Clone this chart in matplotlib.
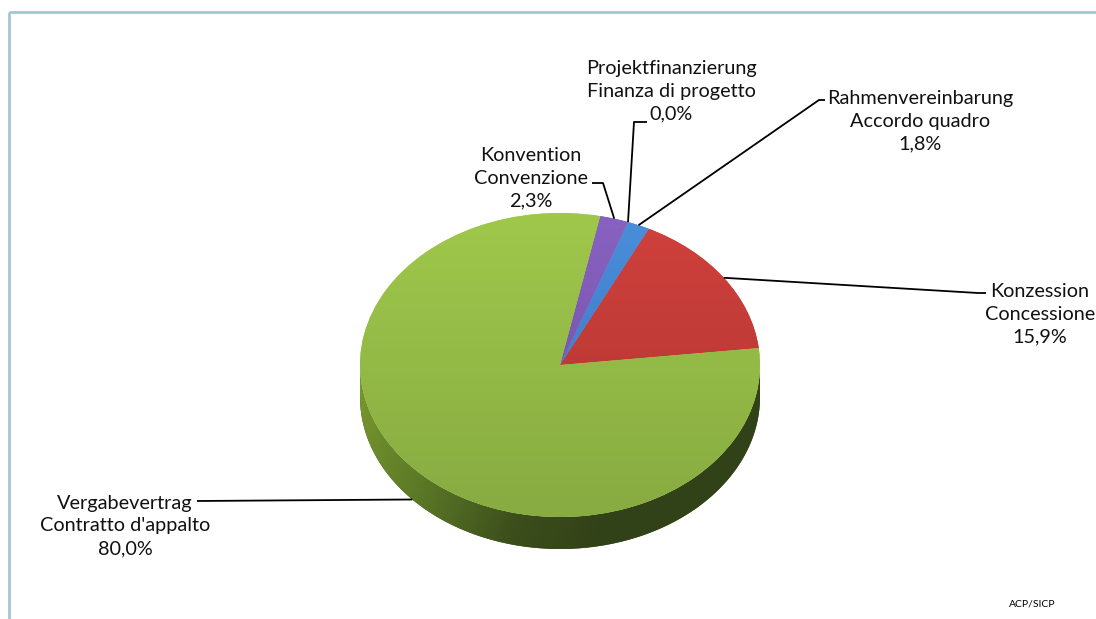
import numpy as np
import matplotlib.pyplot as plt
from matplotlib.colors import LinearSegmentedColormap
from matplotlib.patches import Polygon

plt.rcParams['font.family'] = ['Lato', 'DejaVu Sans']

# Daten (Reihenfolge gegen den Uhrzeigersinn ab Startwinkel)
labels_de = ["Konzession", "Rahmenvereinbarung", "Projektfinanzierung", "Konvention", "Vergabevertrag"]
labels_it = ["Concessione", "Accordo quadro", "Finanza di progetto", "Convenzione", "Contratto d'appalto"]
shares = [15.9, 1.8, 0.0, 2.3, 80.0]

# Farben oben / unten fuer Verlauf
top_cols = ["#D0413C", "#4A8EDA", "#F0BE45", "#8862C0", "#9FC84B"]
bot_cols = ["#AE3431", "#3872C0", "#D09E30", "#6D4CA2", "#88AB42"]

W, H = 1096, 619
fig = plt.figure(figsize=(W / 100, H / 100), dpi=100)

# Overlay in Pixelkoordinaten
over = fig.add_axes([0, 0, 1, 1], zorder=2)
over.set_xlim(0, W)
over.set_ylim(H, 0)
over.axis('off')
over.patch.set_alpha(0)

# Pie-Achse: Ellipse durch ungleiche Skalierung
cx, cy, rx, ry, depth = 560, 365, 200, 152, 32
d = depth / ry
xl, yl = (-1.05, 1.05), (-1.32, 1.05)
ax_w = (xl[1] - xl[0]) * rx
ax_h = (yl[1] - yl[0]) * ry
left = cx + xl[0] * rx
top = cy - yl[1] * ry
ax = fig.add_axes([left / W, (H - top - ax_h) / H, ax_w / W, ax_h / H], zorder=1)

start = 6.4
# Seitenwand (nur vordere Haelfte sichtbar, komplett gruen)
t = np.linspace(np.pi, 2 * np.pi, 300)
side_pts = np.vstack([np.column_stack([np.cos(t), np.sin(t)]),
                      np.column_stack([np.cos(t[::-1]), np.sin(t[::-1]) - d])])
side = Polygon(side_pts, closed=True, facecolor="#3E5019", edgecolor='none', zorder=1)
ax.add_patch(side)
gx, gy = np.meshgrid(np.linspace(0, 1, 300), np.linspace(0, 1, 80))
shade = np.clip(1.35 * gx + 0.2 * gy, 0, 1)
side_cmap = LinearSegmentedColormap.from_list(
    'side', [(0, "#78982F"), (0.35, "#5A7727"), (0.7, "#3C4E1B"), (1, "#324218")])
im = ax.imshow(shade, extent=(-1, 1, -1 - d, 0), cmap=side_cmap, origin='upper',
               aspect='auto', zorder=1.5)
im.set_clip_path(side)

wedges, _ = ax.pie(shares, colors=top_cols, startangle=start, counterclock=True,
                   radius=1, wedgeprops=dict(linewidth=0, zorder=2))
grad = np.linspace(0, 1, 100).reshape(-1, 1)
for w, ct, cb in zip(wedges, top_cols, bot_cols):
    cm = LinearSegmentedColormap.from_list('g', [cb, ct])
    img = ax.imshow(grad, extent=(-1, 1, -1, 1), cmap=cm, origin='lower',
                    aspect='auto', zorder=2.5)
    img.set_clip_path(w)

ax.set_aspect('auto')
ax.set_xlim(*xl)
ax.set_ylim(*yl)
ax.axis('off')


def to_px(x, y):
    disp = ax.transData.transform((x, y))
    return over.transData.inverted().transform(disp)


# Beschriftungen: Blockmitte und Knick der Fuehrungslinie (Pixel)
label_pos = [(1040, 314), (920, 121), (671, 91), (531, 178), (125, 526)]
leader_pts = [[(986, 293), (978, 293)],
              [(825, 100), (819, 100)],
              [(647, 122), (634, 122)],
              [(592, 183), (603, 183)],
              [(197, 501)]]

cum = np.cumsum([0] + shares[:-1])
total = sum(shares)
for i in range(len(shares)):
    mid = np.deg2rad(start + 360 * (cum[i] + shares[i] / 2) / total)
    axp, ayp = np.cos(mid), np.sin(mid)
    if ayp < 0:
        ayp -= d
    anchor = to_px(axp, ayp)
    pts = leader_pts[i] + [tuple(anchor)]
    xs, ys = zip(*pts)
    over.plot(xs, ys, color='black', lw=1.3, solid_capstyle='butt', zorder=5)
    pct = f"{shares[i]:.1f}%".replace('.', ',')
    over.text(label_pos[i][0], label_pos[i][1],
              f"{labels_de[i]}\n{labels_it[i]}\n{pct}",
              ha='center', va='center', multialignment='center',
              fontsize=14.3, linespacing=1.4, color='#111111', zorder=6)

over.text(1032, 604, "ACP/SICP", ha='center', va='center', fontsize=7.5)

# Rahmen
over.plot([9, W], [12, 12], color='#A3C6CF', lw=2, solid_capstyle='butt')
over.plot([9, 9], [12, H], color='#A3C6CF', lw=2, solid_capstyle='butt')

fig.savefig('out.png', dpi=100, facecolor='white')
